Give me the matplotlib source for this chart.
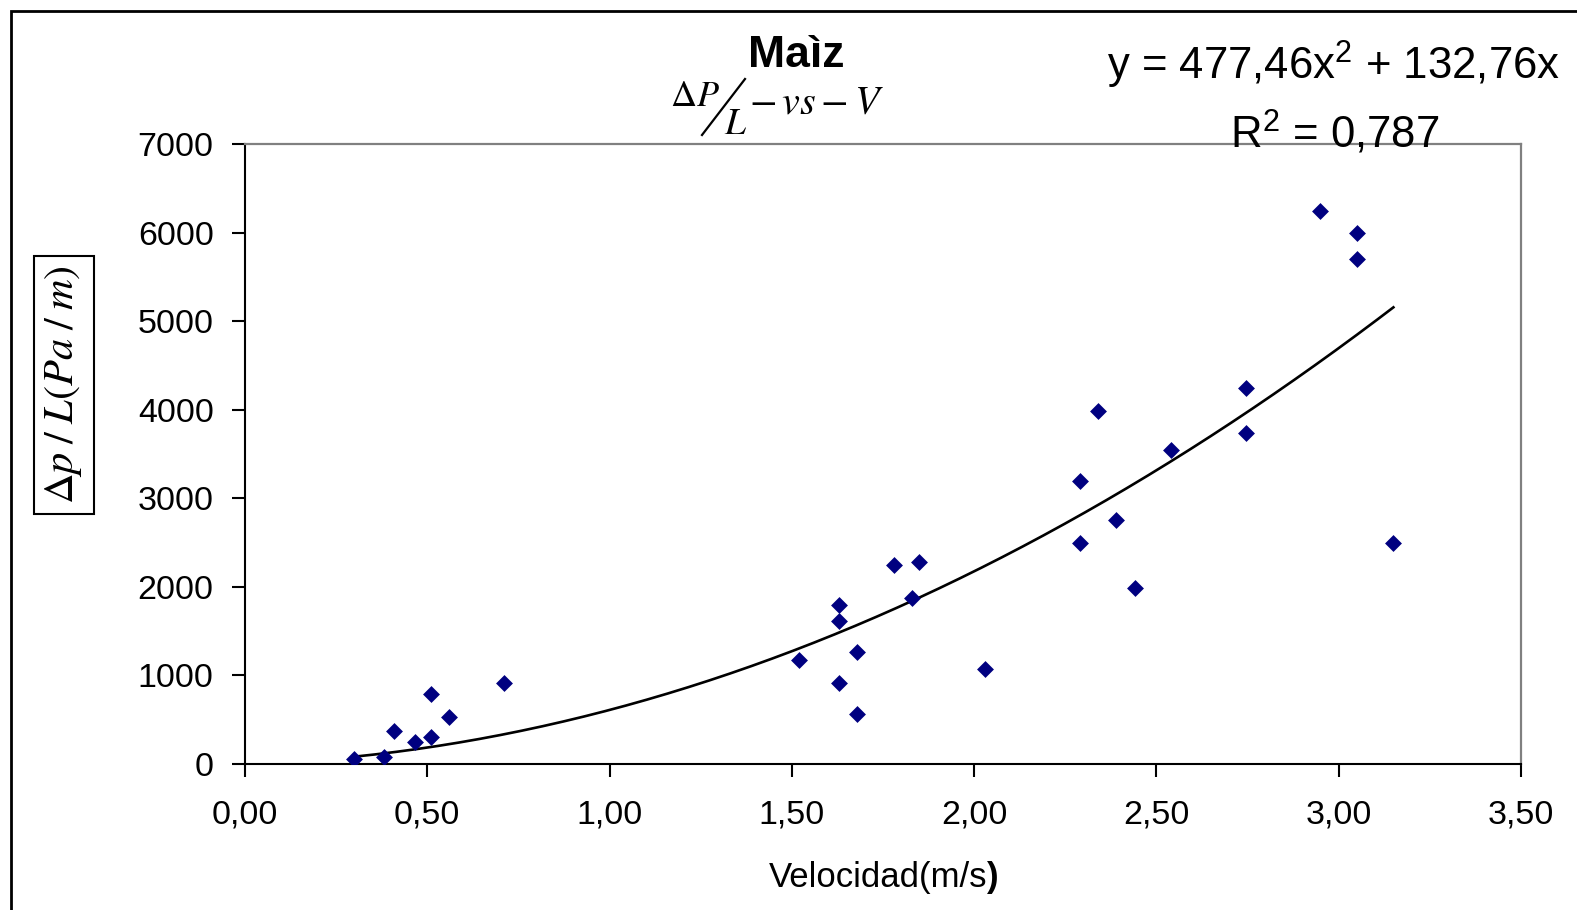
import matplotlib

matplotlib.use("Agg")
import matplotlib.pyplot as plt  # noqa: E402
import numpy as np  # noqa: E402
from matplotlib.lines import Line2D  # noqa: E402
from matplotlib.patches import Rectangle  # noqa: E402

# datos (velocidad m/s, caída de presión Pa/m)
velocidad = [0.30, 0.38, 0.41, 0.465, 0.51, 0.51, 0.56, 0.71,
             1.52, 1.63, 1.63, 1.63, 1.68, 1.68, 1.78, 1.85, 1.83, 2.03,
             2.34, 2.29, 2.29, 2.39, 2.44, 2.54, 2.745, 2.745, 3.15,
             2.95, 3.05, 3.05]
dp_l = [60, 80, 370, 250, 790, 310, 530, 920,
        1170, 1800, 1610, 915, 1260, 570, 2250, 2280, 1870, 1070,
        3990, 3200, 2500, 2755, 1990, 3550, 4245, 3740, 2500,
        6240, 5990, 5700]

# línea de tendencia polinómica (coeficientes de la etiqueta)
coef_a, coef_b = 477.46, 132.76
r2 = "0,787"

x_ticks = [0.0, 0.5, 1.0, 1.5, 2.0, 2.5, 3.0, 3.5]
y_ticks = [0, 1000, 2000, 3000, 4000, 5000, 6000, 7000]

W, H = 1577, 910
plt.rcParams["font.family"] = ["Liberation Sans", "DejaVu Sans"]
plt.rcParams["mathtext.fontset"] = "custom"
plt.rcParams["mathtext.rm"] = "Liberation Sans"
plt.rcParams["mathtext.it"] = "Liberation Sans"


def px(x, y):
    return x / W, 1 - y / H


fig = plt.figure(figsize=(W / 100, H / 100), dpi=100)
ax = fig.add_axes([245 / W, 1 - 764 / H, (1521 - 245) / W, (764 - 144) / H])

ax.scatter(velocidad, dp_l, marker="D", s=8.6 ** 2, color="#000080",
           linewidths=0, zorder=3)
xs = np.linspace(min(velocidad), max(velocidad), 200)
ax.plot(xs, coef_a * xs ** 2 + coef_b * xs, color="black", lw=1.9, zorder=2)

ax.set_xlim(0, 3.5)
ax.set_ylim(0, 7000)
ax.set_xticks(x_ticks)
ax.set_xticklabels([f"{v:.2f}".replace(".", ",") for v in x_ticks])
ax.set_yticks(y_ticks)
ax.set_yticklabels([str(v) for v in y_ticks])
ax.tick_params(direction="out", length=9.5, width=1.5, labelsize=24.5,
               color="black")
ax.tick_params(axis="y", pad=13)
ax.tick_params(axis="x", pad=16)
for side in ("left", "bottom"):
    ax.spines[side].set_color("black")
    ax.spines[side].set_linewidth(1.5)
for side in ("top", "right"):
    ax.spines[side].set_color("#808080")
    ax.spines[side].set_linewidth(1.6)

# marco exterior
fig.add_artist(Rectangle(px(11, 1000), 1.2, (1000 - 11) / H,
                         transform=fig.transFigure, fill=False,
                         edgecolor="black", lw=2, clip_on=False))

# título
fig.text(*px(796, 67), "Maìz", ha="center", va="baseline",
         fontsize=32, fontweight="bold")
fig.text(*px(670, 106), r"$\Delta P$", ha="left", va="baseline",
         fontsize=26, math_fontfamily="stix")
fig.add_artist(Line2D([702 / W, 745 / W], [1 - 135 / H, 1 - 79 / H],
                      transform=fig.transFigure, color="black", lw=1.6))
fig.text(*px(724, 134), r"$L$", ha="left", va="baseline",
         fontsize=27, math_fontfamily="stix")
fig.text(*px(749, 113), r"$-\,vs-V$", ha="left", va="baseline",
         fontsize=29, math_fontfamily="stix")

# ecuación
fig.text(*px(1334, 80), r"y = 477,46x$^{2}$ + 132,76x", ha="center",
         va="baseline", fontsize=31.5)
fig.text(*px(1335, 148), r"R$^{2}$ = " + r2, ha="center",
         va="baseline", fontsize=31.5)

# ejes
fig.text(*px(64, 385), r"$\Delta p\;/\;L(Pa\;/\;m)$", rotation=90,
         ha="center", va="center", fontsize=30.5, math_fontfamily="stix",
         bbox=dict(boxstyle="square,pad=0.22", facecolor="white",
                   edgecolor="black", lw=1.5))
fig.text(*px(987, 887), "Velocidad(m/s", ha="right", va="baseline",
         fontsize=25)
fig.text(*px(987, 887), ")", ha="left", va="baseline", fontsize=25,
         fontweight="bold")

fig.savefig("out.png", dpi=100)
